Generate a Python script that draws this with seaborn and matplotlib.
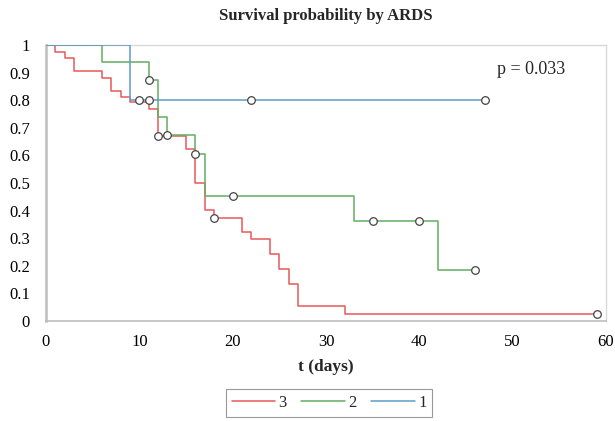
import numpy as np
import pandas as pd
import matplotlib
matplotlib.use("Agg")
import matplotlib.pyplot as plt
import seaborn as sns

# --- data (Kaplan-Meier steps) ---
red_t = [0, 1, 2, 3, 6, 7, 8, 9, 11, 12, 15, 16, 17, 18, 21, 22, 24, 25, 26, 27, 32, 59]
red_s = [1, 0.976, 0.952, 0.905, 0.881, 0.833, 0.81, 0.795, 0.767, 0.671, 0.623,
         0.501, 0.402, 0.374, 0.321, 0.296, 0.242, 0.188, 0.135, 0.054, 0.027, 0.027]
green_t = [0, 6, 11, 12, 13, 16, 17, 33, 42, 46]
green_s = [1, 0.9375, 0.875, 0.74, 0.673, 0.605, 0.453, 0.363, 0.183, 0.183]
blue_t = [0, 9, 47]
blue_s = [1, 0.8, 0.8]

# censored observations (open circles)
cens_t = [12, 18, 59, 11, 13, 16, 20, 35, 40, 46, 10, 11, 22, 47]
cens_s = [0.671, 0.374, 0.027, 0.875, 0.673, 0.605, 0.453, 0.363, 0.363, 0.183,
          0.8, 0.8, 0.8, 0.8]

groups = ["3", "2", "1"]
colors = {"3": "#e8585a", "2": "#62ad62", "1": "#5d9cc6"}

df = pd.concat([
    pd.DataFrame({"t": red_t, "s": red_s, "group": "3"}),
    pd.DataFrame({"t": green_t, "s": green_s, "group": "2"}),
    pd.DataFrame({"t": blue_t, "s": blue_s, "group": "1"}),
], ignore_index=True)
cens = pd.DataFrame({"t": cens_t, "s": cens_s})

sns.set_theme(style="white")
plt.rcParams["font.family"] = ["Liberation Serif", "DejaVu Serif"]

fig = plt.figure(figsize=(6.15, 4.21), dpi=100)
ax = fig.add_axes([46 / 615, 1 - 321 / 421, 560 / 615, 276 / 421])

sns.lineplot(data=df, x="t", y="s", hue="group", hue_order=groups, palette=colors,
             drawstyle="steps-post", estimator=None, sort=False, linewidth=1.1,
             zorder=3, ax=ax)
sns.scatterplot(data=cens, x="t", y="s", marker="o", s=30, facecolor="white",
                edgecolor="#444444", linewidth=0.9, zorder=5, ax=ax, legend=False)

ax.set_xlim(0, 60)
ax.set_ylim(0, 1)
ax.set_xticks(np.arange(0, 61, 10))
ax.set_yticks(np.arange(0, 1.01, 0.1))
ax.set_yticklabels(["0", "0.1", "0.2", "0.3", "0.4", "0.5", "0.6", "0.7", "0.8", "0.9", "1"])
ax.tick_params(axis="both", direction="inout", length=7, width=0.8, color="#b0b0b0",
               labelsize=12, pad=6, labelcolor="black")
ax.tick_params(axis="y", pad=8)

for side in ["left", "bottom"]:
    ax.spines[side].set_color("#bdbdbd")
ax.spines["left"].set_linewidth(1.8)
ax.spines["bottom"].set_linewidth(1.2)
for side in ["top", "right"]:
    ax.spines[side].set_color("#d9d9d9")
    ax.spines[side].set_linewidth(1.0)

ax.set_title("Survival probability by ARDS", fontsize=12, fontweight="bold", pad=18)
ax.set_xlabel("t (days)", fontsize=12.5, fontweight="bold", labelpad=6)
ax.set_ylabel("")
ax.text(48.3, 0.91, "p = 0.033", fontsize=13, va="center", ha="left")

handles, labels = ax.get_legend_handles_labels()
ax.get_legend().remove()
leg = fig.legend(handles, labels, loc="center", bbox_to_anchor=(329 / 615, 1 - 403 / 421),
                 ncol=3, frameon=True, fancybox=False, edgecolor="#808080",
                 fontsize=12, handlelength=2.6, handletextpad=0.2, columnspacing=0.9,
                 borderpad=0.35)
leg.get_frame().set_linewidth(0.8)

fig.savefig("out.png", dpi=100)
